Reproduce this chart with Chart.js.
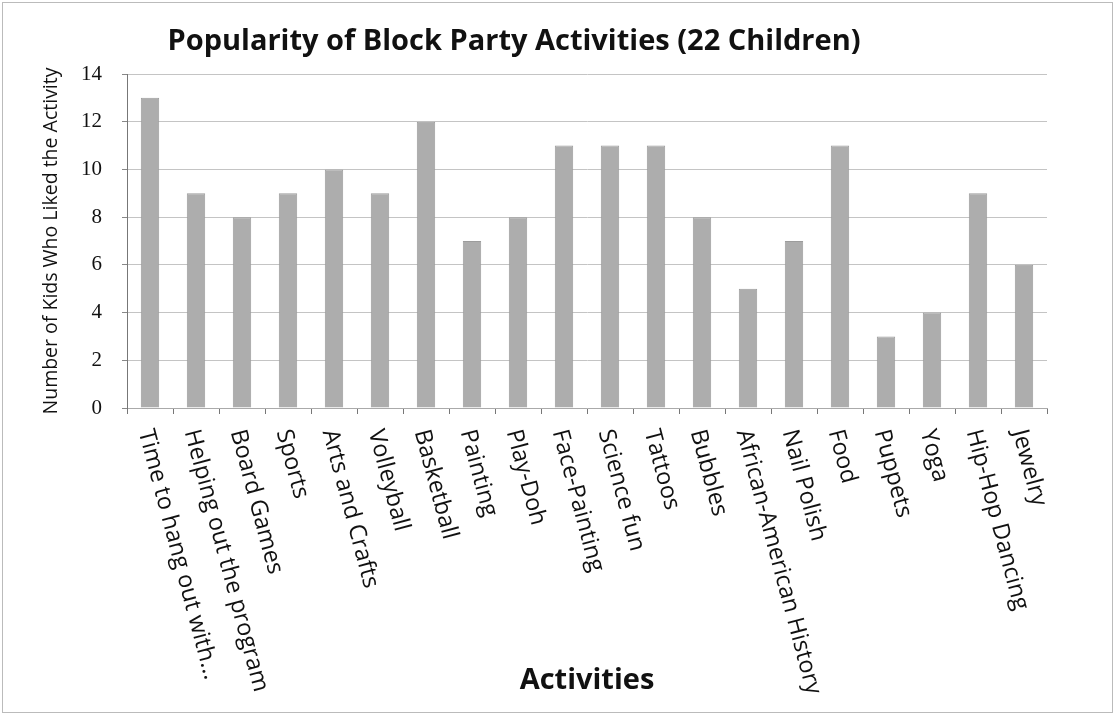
<!DOCTYPE html>
<html>
<head>
<meta charset="utf-8">
<script src="https://cdn.jsdelivr.net/npm/chart.js@4/dist/chart.umd.min.js"></script>
<style>
html,body{margin:0;padding:0;background:#fff;}
#wrap{width:1117px;height:717px;position:relative;}
</style>
</head>
<body>
<div id="wrap"><canvas id="c" width="1117" height="717"></canvas></div>
<script>
const chartTitle = "Popularity of Block Party Activities (22 Children)";
const yTitle = "Number of Kids Who Liked the Activity";
const xTitle = "Activities";
const categories = ["Time to hang out with...","Helping out the program","Board Games","Sports","Arts and Crafts","Volleyball","Basketball","Painting","Play-Doh","Face-Painting","Science fun","Tattoos","Bubbles","African-American History","Nail Polish","Food","Puppets","Yoga","Hip-Hop Dancing","Jewelry"];
const kidsLiked = [13,9,8,9,10,9,12,7,8,11,11,11,8,5,7,11,3,4,9,6];
const yMin = 0, yMax = 14, yStep = 2;

const labelPlugin = {
  id: 'rotLabels',
  afterDraw(chart) {
    const ctx = chart.ctx;
    const xs = chart.scales.x;
    ctx.save();
    // chart title
    ctx.font = 'bold 29px "Open Sans"';
    ctx.fillStyle = '#111';
    ctx.textAlign = 'center';
    ctx.textBaseline = 'middle';
    ctx.fillText(chartTitle, 514, 42);
    // rotated category labels (clockwise)
    ctx.font = '23.5px "Open Sans"';
    ctx.textAlign = 'left';
    ctx.textBaseline = 'middle';
    const ang = 75 * Math.PI / 180;
    categories.forEach((lab, i) => {
      const x = xs.getPixelForTick(i);
      ctx.save();
      ctx.translate(x - 5, xs.top + 22);
      ctx.rotate(ang);
      ctx.fillText(lab, 0, 0);
      ctx.restore();
    });
    // frame
    ctx.strokeStyle = '#bbb';
    ctx.lineWidth = 1;
    ctx.strokeRect(2.5, 2.5, 1110, 710);
    ctx.restore();
  }
};

new Chart(document.getElementById('c'), {
  type: 'bar',
  data: {
    labels: categories,
    datasets: [{
      data: kidsLiked,
      backgroundColor: '#adadad',
      borderColor: '#9c9c9c',
      borderWidth: 1,
      barPercentage: 0.4,
      categoryPercentage: 1.0
    }]
  },
  options: {
    responsive: false,
    animation: false,
    layout: { padding: { top: 74, right: 70, bottom: 0, left: 0 } },
    plugins: {
      legend: { display: false },
      title: { display: false },
      tooltip: { enabled: false }
    },
    scales: {
      x: {
        grid: { display: true, drawOnChartArea: false, offset: true, tickLength: 6, color: '#777' },
        border: { display: true, color: '#aaa', dash: [4, 3] },
        ticks: { display: false },
        title: { display: true, text: xTitle, font: { family: 'Open Sans', size: 29, weight: 'bold' }, color: '#111', padding: { top: 0, bottom: 19 } },
        afterFit(scale) { scale.height = 309; }
      },
      y: {
        min: yMin, max: yMax,
        ticks: { stepSize: yStep, font: { family: 'Liberation Serif', size: 21 }, color: '#111', padding: 20 },
        grid: { color: '#c4c4c4', tickLength: 5, tickColor: '#888' },
        border: { display: true, color: '#777', dash: [] },
        title: { display: true, text: yTitle, font: { family: 'Open Sans', size: 19.5 }, color: '#111', padding: { top: 40, bottom: 0 } },
        afterFit(scale) { scale.width = 127; }
      }
    }
  },
  plugins: [labelPlugin]
});
</script>
</body>
</html>
